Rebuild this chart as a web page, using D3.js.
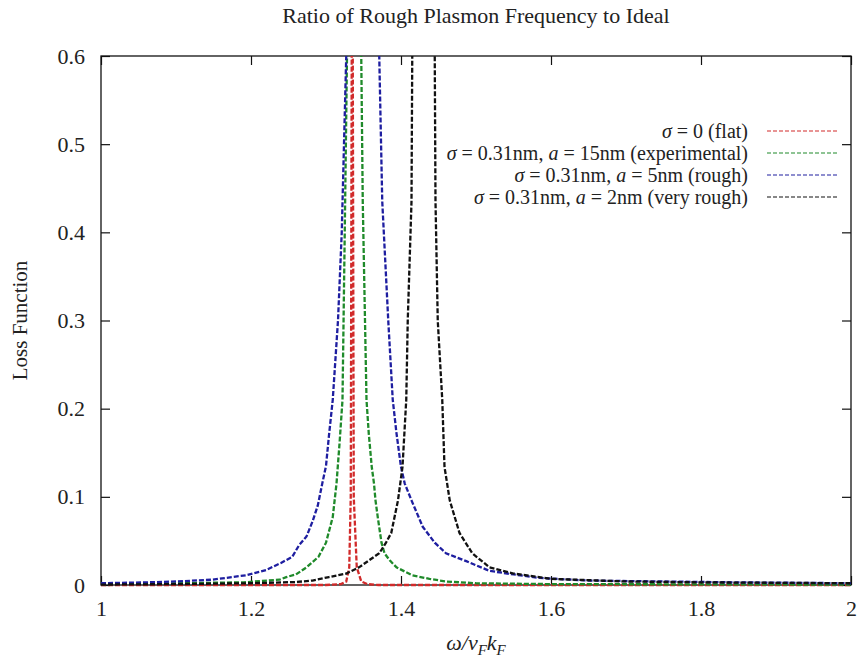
<!DOCTYPE html>
<html>
<head>
<meta charset="utf-8">
<script src="https://cdn.jsdelivr.net/npm/d3@7"></script>
<style>
  html, body { margin: 0; padding: 0; background: #fff; }
  svg { display: block; }
  text { font-family: "Liberation Serif", "Times New Roman", Times, serif; fill: #222; }
</style>
</head>
<body>
<svg id="chart" width="859" height="665"></svg>
<script>
// ---- data ----
const chartTitle = "Ratio of Rough Plasmon Frequency to Ideal";
const yLabel = "Loss Function";
const xTicks = [1, 1.2, 1.4, 1.6, 1.8, 2];
const yTicks = [0, 0.1, 0.2, 0.3, 0.4, 0.5, 0.6];
const xDomain = [1, 2];
const yDomain = [0, 0.6];

// sigma = 0 (flat)
const flat = [
  [1.00, 0], [1.30, 0], [1.320, 0.001], [1.327, 0.004], [1.331, 0.02], [1.333, 0.10],
  [1.3343, 0.60], [1.335, 5.0], [1.3357, 0.60], [1.337, 0.10], [1.341, 0.02],
  [1.347, 0.004], [1.355, 0.001], [1.37, 0], [2.00, 0]
];
// sigma = 0.31nm, a = 15nm (experimental)
const experimental = [
  [1.00, 0.001], [1.10, 0.002], [1.19, 0.003], [1.238, 0.006], [1.247, 0.009],
  [1.26, 0.012], [1.274, 0.020], [1.29, 0.032], [1.300, 0.048], [1.309, 0.077],
  [1.314, 0.115], [1.318, 0.160], [1.322, 0.210], [1.325, 0.400], [1.328, 0.600],
  [1.338, 4.0], [1.347, 0.600], [1.349, 0.435], [1.352, 0.300], [1.354, 0.210],
  [1.357, 0.172], [1.361, 0.134], [1.364, 0.115], [1.366, 0.096], [1.369, 0.077],
  [1.374, 0.048], [1.378, 0.036], [1.385, 0.028], [1.394, 0.020], [1.415, 0.011],
  [1.438, 0.007], [1.46, 0.004], [1.50, 0.002], [1.60, 0.001], [2.00, 0.0005]
];
// sigma = 0.31nm, a = 5nm (rough)
const rough = [
  [1.00, 0.002], [1.06, 0.003], [1.10, 0.004], [1.148, 0.006], [1.193, 0.011],
  [1.22, 0.017], [1.24, 0.025], [1.255, 0.032], [1.264, 0.045], [1.274, 0.055],
  [1.282, 0.072], [1.289, 0.090], [1.295, 0.115], [1.300, 0.135], [1.304, 0.170],
  [1.309, 0.210], [1.316, 0.300], [1.321, 0.400], [1.327, 0.600], [1.345, 3.0],
  [1.371, 0.600], [1.375, 0.435], [1.383, 0.300], [1.389, 0.210], [1.394, 0.172],
  [1.400, 0.134], [1.405, 0.115], [1.414, 0.096], [1.429, 0.066], [1.445, 0.048],
  [1.460, 0.036], [1.487, 0.027], [1.518, 0.016], [1.55, 0.012], [1.585, 0.008],
  [1.65, 0.005], [1.75, 0.004], [1.85, 0.003], [2.00, 0.002]
];
// sigma = 0.31nm, a = 2nm (very rough)
const veryRough = [
  [1.00, 0.0005], [1.10, 0.001], [1.20, 0.002], [1.26, 0.0034], [1.282, 0.005],
  [1.304, 0.009], [1.327, 0.013], [1.344, 0.020], [1.371, 0.036], [1.380, 0.048],
  [1.387, 0.059], [1.396, 0.096], [1.402, 0.134], [1.407, 0.210], [1.409, 0.300],
  [1.414, 0.435], [1.415, 0.600], [1.430, 3.0], [1.445, 0.600], [1.446, 0.435],
  [1.449, 0.300], [1.455, 0.210], [1.458, 0.134], [1.465, 0.096], [1.478, 0.059],
  [1.495, 0.036], [1.518, 0.020], [1.55, 0.013], [1.60, 0.007], [1.70, 0.004],
  [1.80, 0.003], [2.00, 0.002]
];

const series = [
  { name: "flat", data: flat, color: "#d12a2a" },
  { name: "experimental", data: experimental, color: "#1f8a2a" },
  { name: "rough", data: rough, color: "#1e1ea0" },
  { name: "veryRough", data: veryRough, color: "#111111" }
];

// ---- layout ----
const svg = d3.select("#chart");
const L = 101, R = 851, T = 56, B = 585;
const x = d3.scaleLinear().domain(xDomain).range([L, R]);
const y = d3.scaleLinear().domain(yDomain).range([B, T]);

// title
svg.append("text").attr("x", (L + R) / 2).attr("y", 23)
  .attr("text-anchor", "middle").style("font-size", "22px").text(chartTitle);

// y label
svg.append("text")
  .attr("transform", `translate(27,${(T + B) / 2}) rotate(-90)`)
  .attr("text-anchor", "middle").style("font-size", "21px").text(yLabel);

// x label: ω/v_F k_F
const xl = svg.append("text").attr("x", 476).attr("y", 650)
  .attr("text-anchor", "middle").style("font-size", "22px").style("font-style", "italic");
xl.append("tspan").text("ω/v");
xl.append("tspan").attr("dy", 5).style("font-size", "15px").text("F");
xl.append("tspan").attr("dy", -5).text("k");
xl.append("tspan").attr("dy", 5).style("font-size", "15px").text("F");

// axes with inward ticks, mirrored
const tickLen = 9;
const fmt = d => String(+d.toFixed(2));
const axB = svg.append("g").attr("transform", `translate(0,${B})`)
  .call(d3.axisBottom(x).tickValues(xTicks).tickSize(-tickLen).tickPadding(15).tickFormat(fmt));
const axT = svg.append("g").attr("transform", `translate(0,${T})`)
  .call(d3.axisTop(x).tickValues(xTicks).tickSize(-tickLen).tickFormat(""));
const axL = svg.append("g").attr("transform", `translate(${L},0)`)
  .call(d3.axisLeft(y).tickValues(yTicks).tickSize(-tickLen).tickPadding(16).tickFormat(fmt));
const axR = svg.append("g").attr("transform", `translate(${R},0)`)
  .call(d3.axisRight(y).tickValues(yTicks).tickSize(-tickLen).tickFormat(""));
[axB, axT, axL, axR].forEach(g => {
  g.select(".domain").remove();
  g.selectAll("line").attr("stroke", "#111").attr("stroke-width", 1.2);
  g.selectAll("text").style("font-size", "22px").attr("fill", "#222")
    .style("font-family", "'Liberation Serif', 'Times New Roman', serif");
});
axB.selectAll("text").attr("dy", "0.71em");
svg.append("rect").attr("x", L).attr("y", T).attr("width", R - L).attr("height", B - T)
  .attr("fill", "none").attr("stroke", "#111").attr("stroke-width", 1.3);

// curves
svg.append("clipPath").attr("id", "clip").append("rect")
  .attr("x", L).attr("y", T).attr("width", R - L).attr("height", B - T + 2);
const line = d3.line().x(d => x(d[0])).y(d => y(d[1]));
const gc = svg.append("g").attr("clip-path", "url(#clip)");
series.forEach(s => {
  gc.append("path").datum(s.data).attr("d", line)
    .attr("fill", "none").attr("stroke", s.color).attr("stroke-width", 2.3)
    .attr("stroke-dasharray", "5,2");
});

// legend
const legendRows = [
  { parts: [["σ", true], [" = 0 (flat)", false]], color: series[0].color },
  { parts: [["σ", true], [" = 0.31nm, ", false], ["a", true], [" = 15nm (experimental)", false]], color: series[1].color },
  { parts: [["σ", true], [" = 0.31nm, ", false], ["a", true], [" = 5nm (rough)", false]], color: series[2].color },
  { parts: [["σ", true], [" = 0.31nm, ", false], ["a", true], [" = 2nm (very rough)", false]], color: series[3].color }
];
const lg = svg.append("g");
legendRows.forEach((r, i) => {
  const yy = 131 + i * 22;
  const t = lg.append("text").attr("x", 748).attr("y", yy).attr("dy", "0.35em")
    .attr("text-anchor", "end").style("font-size", "20px");
  r.parts.forEach(p => t.append("tspan").style("font-style", p[1] ? "italic" : "normal").text(p[0]));
  lg.append("line").attr("x1", 767).attr("x2", 837).attr("y1", yy).attr("y2", yy)
    .attr("stroke", r.color).attr("stroke-width", 1.2).attr("stroke-dasharray", "4,2");
});
</script>
</body>
</html>
